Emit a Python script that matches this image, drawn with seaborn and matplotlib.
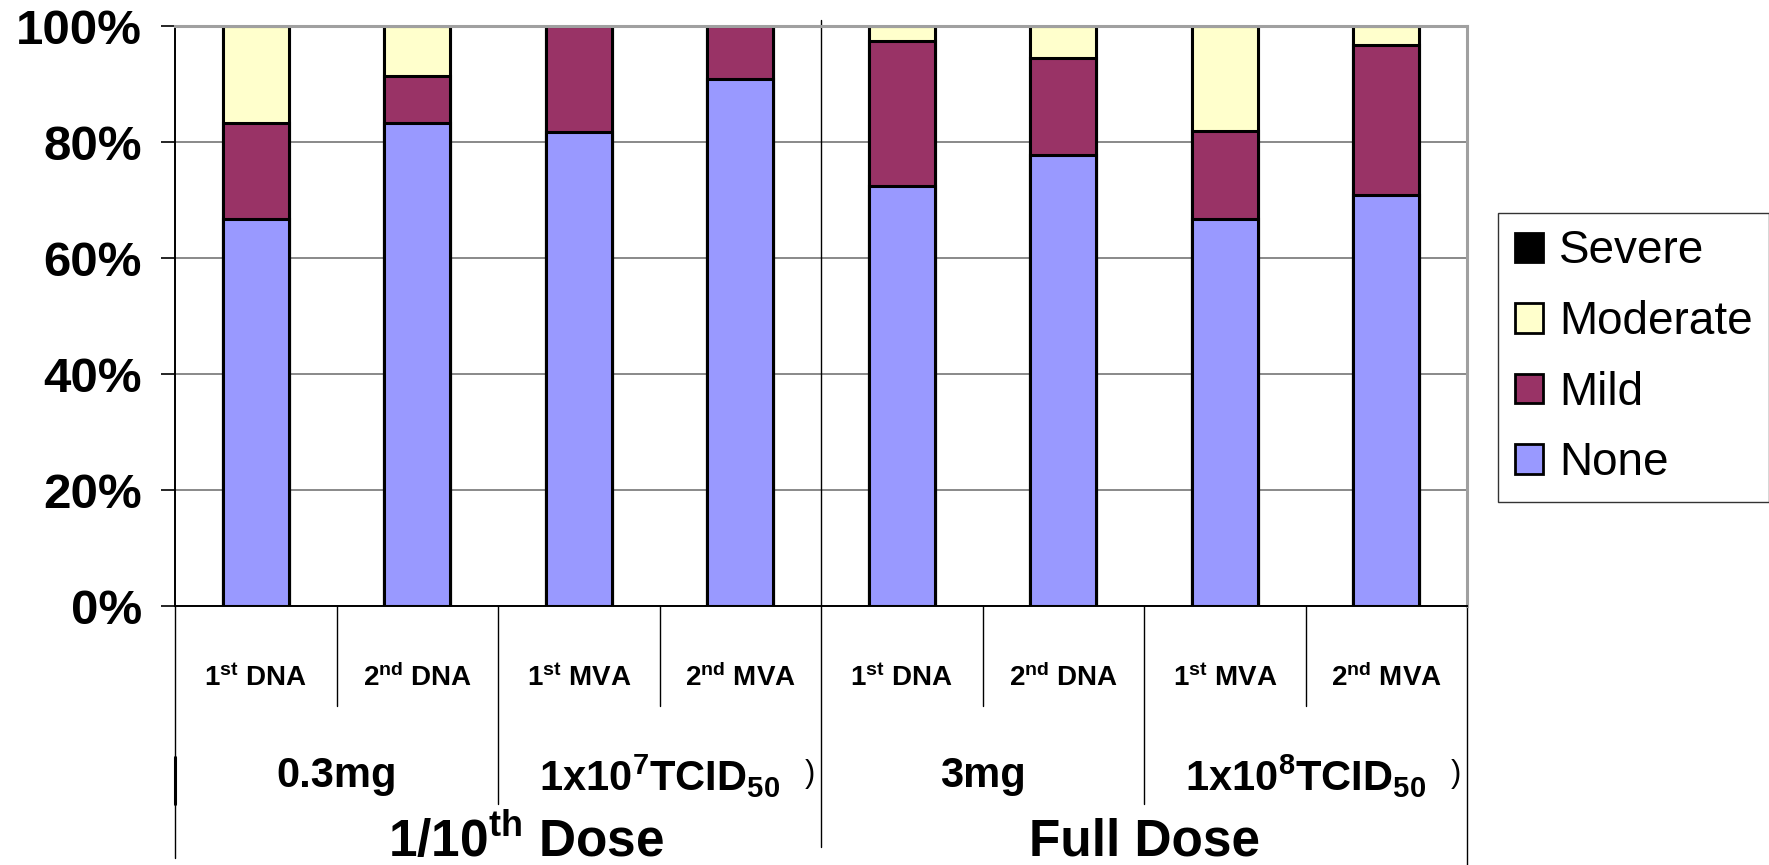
import matplotlib
matplotlib.use("Agg")
import matplotlib.pyplot as plt
import matplotlib.transforms as mtransforms
from matplotlib.patches import Patch
import numpy as np
import seaborn as sns

# data (percent of subjects per severity)
bar_labels = ["1$^{st}$ DNA", "2$^{nd}$ DNA", "1$^{st}$ MVA", "2$^{nd}$ MVA",
              "1$^{st}$ DNA", "2$^{nd}$ DNA", "1$^{st}$ MVA", "2$^{nd}$ MVA"]
dose_labels = ["0.3mg", "1x10$^{7}$TCI$\\mathrm{D}_{50}$", "3mg", "1x10$^{8}$TCI$\\mathrm{D}_{50}$"]
group_labels = ["1/10$^{th}$ Dose", "Full Dose"]
none_pct = [66.7, 83.3, 81.8, 90.9, 72.4, 77.8, 66.8, 70.9]
mild_pct = [16.6, 8.1, 18.2, 9.1, 25.1, 16.6, 15.1, 25.9]
moderate_pct = [16.7, 8.6, 0.0, 0.0, 2.5, 5.6, 18.1, 3.2]
severe_pct = [0, 0, 0, 0, 0, 0, 0, 0]
series_names = ["None", "Mild", "Moderate", "Severe"]
series_colors = ["#9999FF", "#993366", "#FFFFCC", "#000000"]

sns.set_style("white")
plt.rcParams["font.family"] = ["Liberation Sans", "DejaVu Sans"]
plt.rcParams["mathtext.fontset"] = "custom"
plt.rcParams["mathtext.rm"] = "Liberation Sans:bold"
plt.rcParams["mathtext.it"] = "Liberation Sans:bold"
plt.rcParams["mathtext.bf"] = "Liberation Sans:bold"
plt.rcParams["text.color"] = "black"
plt.rcParams["ytick.color"] = "black"
plt.rcParams["xtick.color"] = "black"

W, H = 1769, 865
fig = plt.figure(figsize=(W / 100, H / 100), dpi=100)
ax = fig.add_axes([175 / W, 1 - 606 / H, 1292 / W, 580 / H])

pos = np.arange(len(none_pct))
layers = [np.array(none_pct), np.array(mild_pct), np.array(moderate_pct), np.array(severe_pct)]
cum = np.cumsum(layers, axis=0)

# stacked bars: draw cumulative totals from the top layer down
for k in range(len(layers) - 1, -1, -1):
    sns.barplot(x=pos, y=cum[k], color=series_colors[k], saturation=1,
                width=0.41, edgecolor="black", linewidth=2.2, errorbar=None, ax=ax)

ax.set_xlim(-0.5, 7.5)
ax.set_ylim(0, 100)
ax.set_yticks([0, 20, 40, 60, 80, 100])
ax.set_yticklabels(["0%", "20%", "40%", "60%", "80%", "100%"],
                   fontsize=35.5, fontweight="bold", color="black")
ax.set_xticks([])
ax.set_xlabel("")
ax.set_ylabel("")
ax.set_axisbelow(True)
ax.yaxis.grid(True, color="#808080", linewidth=1.3)
ax.tick_params(axis="y", which="major", direction="out", length=10, width=1.2,
               color="black", pad=14, left=True)
ax.spines["left"].set_color("black")
ax.spines["left"].set_linewidth(1.4)
ax.spines["bottom"].set_color("black")
ax.spines["bottom"].set_linewidth(1.4)
for s in ["top", "right"]:
    ax.spines[s].set_color("#A0A0A0")
    ax.spines[s].set_linewidth(2.2)

trans = mtransforms.blended_transform_factory(ax.transData, ax.transAxes)

def vline(x, y0, y1, lw=1.0):
    ax.plot([x, x], [y0, y1], color="black", lw=lw, transform=trans, clip_on=False)

def ypx(p):
    return (606 - p) / 580

# separators below the axis
for b in [0.5, 2.5, 4.5, 6.5]:
    vline(b, 0, ypx(706))
for b in [1.5, 5.5]:
    vline(b, 0, ypx(804))
vline(-0.5, 0, ypx(858))
vline(-0.5, ypx(757), ypx(804), lw=2.2)
vline(3.5, ypx(20), ypx(847))
vline(7.5, 0, ypx(865))

# category labels
for i, lab in enumerate(bar_labels):
    ax.text(i, ypx(678), lab, transform=trans, ha="center", va="center",
            fontsize=20, fontweight="bold")
for j, lab in enumerate(dose_labels):
    ax.text(2 * j + 0.5, ypx(776), lab, transform=trans, ha="center", va="center",
            fontsize=30, fontweight="bold")
for xx, lab in zip([1.67, 5.5], group_labels):
    ax.text(xx, ypx(842), lab, transform=trans, ha="center", va="center",
            fontsize=37, fontweight="bold")
for xx in [3.43, 7.43]:
    ax.text(xx, ypx(774), ")", transform=trans, ha="center", va="center",
            fontsize=22, color="black")

# legend
handles = [Patch(facecolor=series_colors[k], edgecolor="black", linewidth=2,
                 label=series_names[k]) for k in range(3, -1, -1)]
leg = fig.legend(handles=handles, loc="upper left",
                 bbox_to_anchor=(1498 / W, 1 - 213 / H), bbox_transform=fig.transFigure,
                 fontsize=33, frameon=True, fancybox=False, borderaxespad=0,
                 handlelength=0.62, handleheight=0.62, handletextpad=0.35,
                 labelspacing=0.58, borderpad=0.36)
leg.get_frame().set_edgecolor("black")
leg.get_frame().set_linewidth(1.0)

fig.savefig("out.png", dpi=100)
